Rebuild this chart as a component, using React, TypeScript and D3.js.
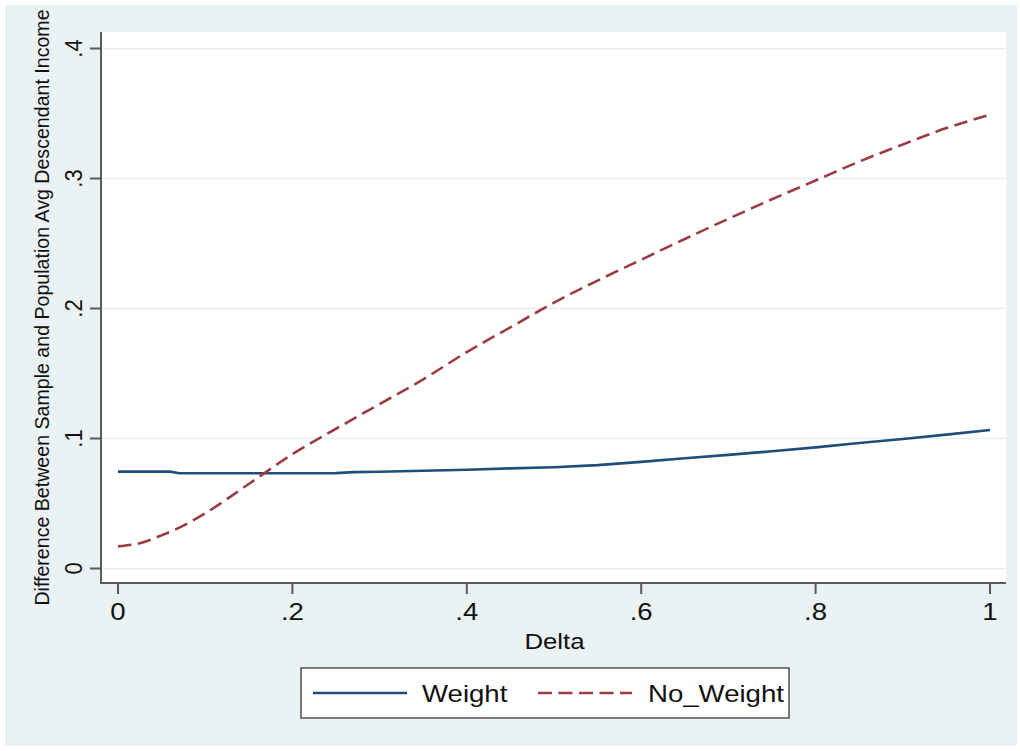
import * as d3 from "d3";
import React from "react";

// values
const deltaW = [0, 0.03, 0.06, 0.07, 0.1, 0.15, 0.2, 0.25, 0.27, 0.3, 0.35, 0.4, 0.45, 0.5, 0.55, 0.6, 0.65, 0.7, 0.75, 0.8, 0.85, 0.9, 0.95, 1.0];
const weight = [0.0745, 0.0745, 0.0745, 0.0733, 0.0733, 0.0733, 0.0733, 0.0734, 0.0741, 0.0744, 0.0752, 0.076, 0.077, 0.0779, 0.0795, 0.082, 0.0848, 0.0874, 0.0902, 0.0932, 0.0966, 0.0996, 0.103, 0.1065];

const deltaN = [0, 0.025, 0.05, 0.075, 0.1, 0.15, 0.2, 0.25, 0.3, 0.35, 0.4, 0.45, 0.5, 0.55, 0.6, 0.65, 0.7, 0.75, 0.8, 0.85, 0.9, 0.95, 1.0];
const noWeight = [0.017, 0.0195, 0.0255, 0.033, 0.0425, 0.065, 0.088, 0.1075, 0.1265, 0.1455, 0.1665, 0.1855, 0.2045, 0.2215, 0.2375, 0.2535, 0.269, 0.284, 0.2985, 0.313, 0.3262, 0.3388, 0.349];

const xTicks = [0, 0.2, 0.4, 0.6, 0.8, 1];
const yTicks = [0, 0.1, 0.2, 0.3, 0.4];
const fmt = (v: number) => (v === 0 ? "0" : v === 1 ? "1" : String(v).replace(/^0/, ""));

const W = 1020;
const H = 751;
const font = "'Liberation Sans', Arial, Helvetica, sans-serif";
const navy = "#1f4e79";
const maroon = "#9a3d43";
const axisColor = "#5a5a5a";
const sx = 1.2; // the reference text is a bit wider than plain Arial

const App = () => {
  const x = d3.scaleLinear().domain([0, 1]).range([118, 990]);
  const y = d3.scaleLinear().domain([0, 0.4]).range([568.5, 48.5]);

  const lineW = d3.line<number>()
    .x((_, i) => x(deltaW[i]))
    .y((d) => y(d));
  const lineN = d3.line<number>()
    .x((_, i) => x(deltaN[i]))
    .y((d) => y(d))
    .curve(d3.curveMonotoneX);

  const plotL = 101, plotR = 1006, plotT = 32, plotB = 583;

  return (
    <svg width={W} height={H} style={{ position: "absolute", left: 0, top: 0 }} fontFamily={font}>
      <rect x={0} y={0} width={W} height={H} fill="#ffffff" />
      <rect x={5} y={5} width={1012} height={741} fill="#eaf2f3" />
      <rect x={plotL} y={plotT} width={plotR - plotL} height={plotB - plotT} fill="#ffffff" />

      {/* gridlines */}
      {yTicks.map((t) => (
        <line key={"g" + t} x1={plotL} x2={plotR} y1={y(t)} y2={y(t)} stroke="#e6eff2" strokeWidth={1.6} />
      ))}

      {/* series */}
      <path d={lineW(weight) || ""} fill="none" stroke={navy} strokeWidth={2.6} />
      <path d={lineN(noWeight) || ""} fill="none" stroke={maroon} strokeWidth={2.6} strokeDasharray="13.5 6.5" />

      {/* axes */}
      <line x1={plotL} x2={plotL} y1={plotT} y2={plotB} stroke={axisColor} strokeWidth={2} />
      <line x1={plotL - 1} x2={plotR} y1={plotB} y2={plotB} stroke={axisColor} strokeWidth={2} />
      {yTicks.map((t) => (
        <g key={"y" + t}>
          <line x1={plotL - 11} x2={plotL} y1={y(t)} y2={y(t)} stroke={axisColor} strokeWidth={2} />
          <text transform={`translate(82,${y(t)}) rotate(-90) scale(1,1.1)`} textAnchor="middle" fontSize={22} fill="#111">
            {fmt(t)}
          </text>
        </g>
      ))}
      {xTicks.map((t) => (
        <g key={"x" + t}>
          <line x1={x(t)} x2={x(t)} y1={plotB} y2={plotB + 11} stroke={axisColor} strokeWidth={2} />
          <text transform={`translate(${x(t)},620) scale(${sx},1)`} textAnchor="middle" fontSize={23} fill="#111">
            {fmt(t)}
          </text>
        </g>
      ))}

      {/* axis titles */}
      <text transform={`translate(${(plotL + plotR) / 2 + 1},649) scale(${sx},1)`} textAnchor="middle" fontSize={21.5} fill="#111">Delta</text>
      <text transform={`translate(49,${(plotT + plotB) / 2}) rotate(-90)`} textAnchor="middle" fontSize={19.6} fill="#111">
        Difference Between Sample and Population Avg Descendant Income
      </text>

      {/* legend */}
      <rect x={301} y={668} width={488} height={50} fill="#ffffff" stroke="#444" strokeWidth={1.4} />
      <line x1={313} x2={407} y1={693} y2={693} stroke={navy} strokeWidth={2.6} />
      <text transform={`translate(422,702) scale(${sx},1)`} fontSize={23} fill="#111">Weight</text>
      <line x1={538} x2={632} y1={693} y2={693} stroke={maroon} strokeWidth={2.6} strokeDasharray="14 6.5" />
      <text transform={`translate(648,702) scale(1.2,1)`} fontSize={23} fill="#111">No_Weight</text>
    </svg>
  );
};

export default App;
